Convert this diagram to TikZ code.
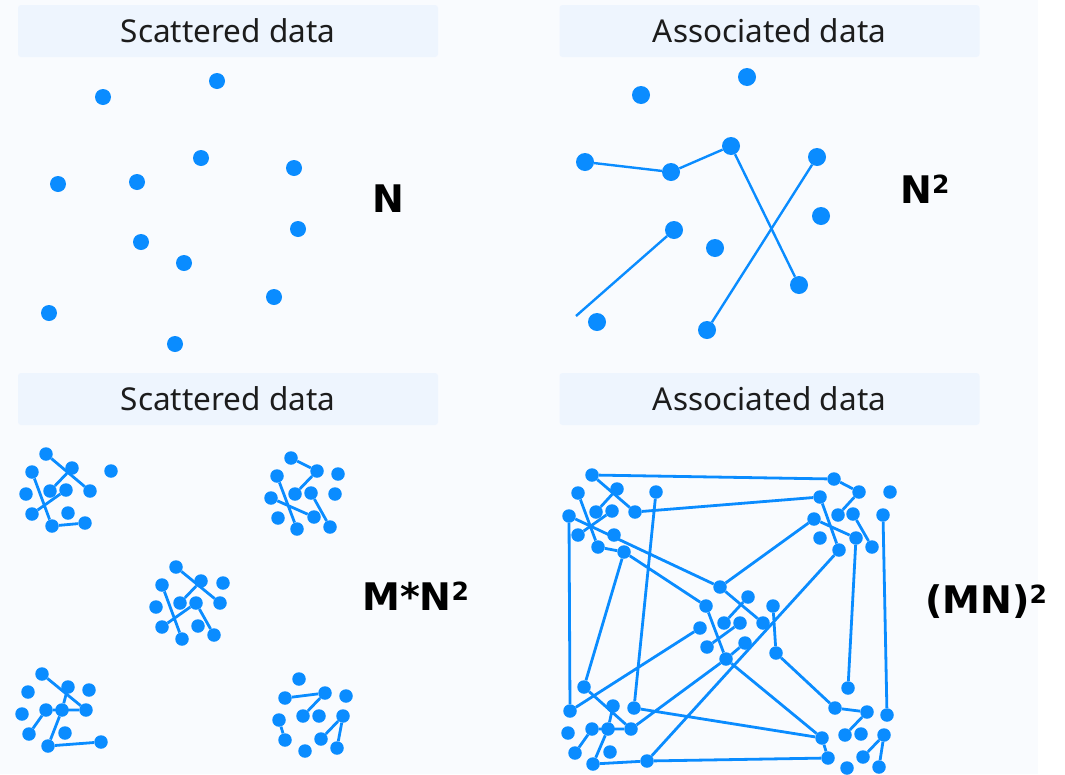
\documentclass[tikz,border=0pt]{standalone}
\usepackage{fontspec}
\setmainfont{Noto Sans}
\newfontfamily\tagfont{DejaVu Sans}
\newcommand\sqmark{\raisebox{10pt}{\fontsize{25}{30}\selectfont 2}}
\definecolor{dotblue}{RGB}{10,140,255}
\definecolor{pagebg}{RGB}{249,251,254}
\definecolor{titlebg}{RGB}{238,245,254}
\definecolor{inktext}{RGB}{28,28,28}
\tikzset{
  bigdot/.style={circle,fill=dotblue,inner sep=0pt,minimum size=16pt},
  assocdot/.style={circle,fill=dotblue,inner sep=0pt,minimum size=18pt},
  smalldot/.style={circle,fill=dotblue,inner sep=0pt,minimum size=13.5pt},
  link/.style={draw=dotblue,line width=2.4pt},
  thinlink/.style={draw=dotblue,line width=2.8pt},
  titlebox/.style={fill=titlebg,rounded corners=3pt,minimum width=420pt,minimum height=52pt,
    text=inktext,font=\fontsize{31.5}{38}\selectfont},
  bigtag/.style={text=black,font=\tagfont\bfseries\fontsize{38}{46}\selectfont,inner sep=0pt}
}
\begin{document}
\begin{tikzpicture}[x=1pt,y=-1pt]
% page
\fill[pagebg] (0,0) rectangle (1065,774);
\fill[white] (1038,0) rectangle (1065,774);
\useasboundingbox (0,0) rectangle (1065,774);

% headings
\node[titlebox] (h1) at (228,31) {Scattered data};
\node[titlebox] (h2) at (769.5,31) {Associated data};
\node[titlebox] (h3) at (228,399) {Scattered data};
\node[titlebox] (h4) at (769.5,399) {Associated data};

% complexity tags
\node[bigtag,anchor=base] (t1) at (388,212) {N};
\node[bigtag,anchor=base west] (t2) at (900,203) {N\sqmark};
\node[bigtag,anchor=base west] (t3) at (362,610) {M*N\sqmark};
\node[bigtag,anchor=base west] (t4) at (925,613) {(MN)\sqmark};

% scattered points
\foreach \n/\x/\y in {s1/103/97, s2/217/81, s3/58/184, s4/137/182, s5/201/158, s6/294/168,
  s7/141/242, s8/184/263, s9/298/229, s10/274/297, s11/49/313, s12/175/344}
  \node[bigdot] (\n) at (\x,\y) {};

% associated points
\foreach \n/\x/\y in {a1/641/95, a2/747/77, a3/585/162, a4/671/172, a5/731/146, a6/817/157,
  a7/821/216, a8/674/230, a9/715/248, a10/799/285, a11/597/322, a12/707/330}
  \node[assocdot] (\n) at (\x,\y) {};
\coordinate (a0) at (576,316);
\draw[link] (a3) -- (a4) -- (a5) -- (a10);
\draw[link] (a6) -- (a12);
\draw[link] (a8) -- (a0);

% small clusters, scattered
\foreach \n/\x/\y in {
  p1a/46/454, p1b/72/468, p1c/32/472, p1d/111/471, p1e/26/494, p1f/50/491,
  p1g/66/490, p1h/90/491, p1i/32/514, p1j/68/513, p1k/52/526, p1l/85/523,
  p2a/291/458, p2b/317/471, p2c/338/474, p2d/277/476, p2e/295/494, p2f/311/493,
  p2g/335/494, p2h/271/498, p2i/278/518, p2j/314/517, p2k/297/529, p2l/330/527,
  p3a/176/567, p3b/201/581, p3c/223/583, p3d/162/585, p3e/180/603, p3f/196/603,
  p3g/220/603, p3h/156/607, p3i/162/627, p3j/198/626, p3k/182/639, p3l/214/635,
  p4a/42/674, p4b/68/687, p4c/89/690, p4d/28/692, p4e/22/714, p4f/46/710,
  p4g/62/710, p4h/86/710, p4i/29/734, p4j/65/733, p4k/48/746, p4l/101/742,
  p5a/299/679, p5b/285/698, p5c/325/693, p5d/346/696, p5e/303/716, p5f/319/716,
  p5g/343/716, p5h/279/720, p5i/285/740, p5j/321/739, p5k/305/751, p5l/337/748}
  \node[smalldot] (\n) at (\x,\y) {};
\draw[thinlink] (p1a) -- (p1h) (p1b) -- (p1f) (p1c) -- (p1k) (p1i) -- (p1g) (p1k) -- (p1l);
\draw[thinlink] (p2a) -- (p2b) (p2b) -- (p2e) (p2d) -- (p2k) (p2h) -- (p2j) (p2f) -- (p2l);
\draw[thinlink] (p3a) -- (p3g) (p3b) -- (p3e) (p3d) -- (p3k) (p3i) -- (p3f) (p3f) -- (p3l);
\draw[thinlink] (p4a) -- (p4h) (p4b) -- (p4g) (p4f) -- (p4h) (p4i) -- (p4f) (p4g) -- (p4k) (p4k) -- (p4l);
\draw[thinlink] (p5b) -- (p5c) (p5c) -- (p5e) (p5h) -- (p5i) (p5g) -- (p5j) (p5g) -- (p5l);

% small clusters, associated
\foreach \n/\x/\y in {
  q1a/592/475, q1b/617/489, q1c/578/493, q1d/656/492, q1e/569/516, q1f/596/512,
  q1g/612/511, q1h/635/512, q1i/578/535, q1j/614/535, q1k/598/547, q1l/624/552,
  q2a/834/479, q2b/859/492, q2c/890/492, q2d/820/497, q2e/838/515, q2f/853/514,
  q2g/883/515, q2h/814/519, q2i/820/538, q2j/856/538, q2k/839/550, q2l/872/547,
  q3a/720/587, q3b/748/597, q3c/773/606, q3d/706/606, q3e/724/623, q3f/740/623,
  q3g/763/623, q3h/700/628, q3i/707/647, q3j/745/643, q3k/726/659, q3l/776/653,
  q4a/584/687, q4b/613/706, q4c/634/708, q4d/570/711, q4e/568/733, q4f/592/729,
  q4g/608/729, q4h/631/729, q4i/575/753, q4j/610/752, q4k/593/764, q4l/647/761,
  q5a/848/688, q5b/835/708, q5c/867/712, q5d/887/715, q5e/845/735, q5f/861/734,
  q5g/884/735, q5h/822/738, q5i/828/758, q5j/863/757, q5k/847/768, q5l/879/767}
  \node[smalldot] (\n) at (\x,\y) {};
\draw[thinlink] (q1a) -- (q1h) (q1b) -- (q1f) (q1c) -- (q1k) (q1i) -- (q1g) (q1k) -- (q1l);
\draw[thinlink] (q2a) -- (q2b) (q2b) -- (q2e) (q2d) -- (q2k) (q2h) -- (q2j) (q2f) -- (q2l);
\draw[thinlink] (q3a) -- (q3g) (q3b) -- (q3e) (q3d) -- (q3k) (q3i) -- (q3f) (q3j) -- (q3k);
\draw[thinlink] (q4a) -- (q4h) (q4b) -- (q4g) (q4f) -- (q4h) (q4i) -- (q4f) (q4g) -- (q4k) (q4k) -- (q4l);
\draw[thinlink] (q5b) -- (q5c) (q5c) -- (q5e) (q5h) -- (q5i) (q5g) -- (q5j) (q5g) -- (q5l);
% links between clusters
\draw[thinlink] (q1a) -- (q2a) (q1h) -- (q2d) (q1e) -- (q4d) (q1d) -- (q4c) (q1l) -- (q4a)
  (q1e) -- (q3a) (q1l) -- (q3d) (q3a) -- (q2h) (q2k) -- (q4l) (q2j) -- (q5a) (q2g) -- (q5d)
  (q3l) -- (q5b) (q3c) -- (q3l) (q4c) -- (q5h) (q4h) -- (q3k) (q4l) -- (q5i) (q4d) -- (q3h)
  (q3k) -- (q5h);
\end{tikzpicture}
\end{document}
